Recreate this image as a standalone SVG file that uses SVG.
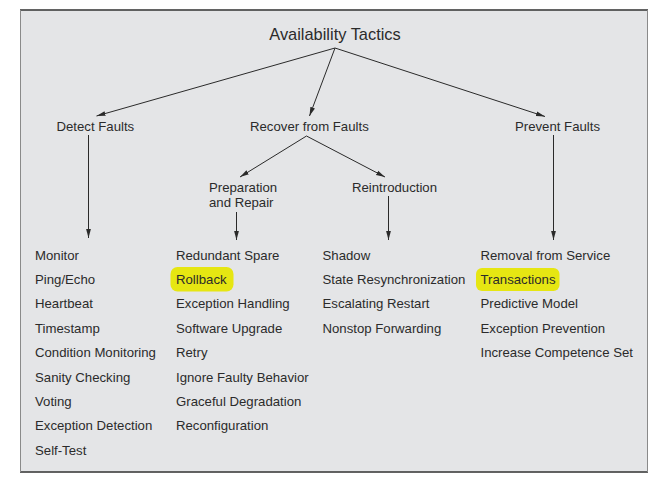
<svg xmlns="http://www.w3.org/2000/svg" width="663" height="484" viewBox="0 0 663 484">
  <style>
    text { font-family: "Liberation Sans", Arial, sans-serif; fill: #2b2b2b; }
    .title { font-size: 16.4px; text-anchor: middle; }
    .lbl { font-size: 13.2px; }
    .conn { stroke: #2a2a2a; stroke-width: 1; fill: none; marker-end: url(#arrow); }
    .hl { fill: #e6e612; }
  </style>
  <defs>
    <marker id="arrow" markerUnits="userSpaceOnUse" markerWidth="9" markerHeight="6" viewBox="0 0 9 6" refX="9" refY="3" orient="auto">
      <path d="M0,0.6 L9,3 L0,5.4 Z" fill="#2a2a2a"/>
    </marker>
  </defs>

  <rect x="0" y="0" width="663" height="484" fill="#ffffff"/>
  <g id="frame">
    <rect x="20" y="9.5" width="628" height="463" fill="#e4e5e7"/>
    <line x1="20" y1="10" x2="648" y2="10" stroke="#333" stroke-width="1.5"/>
    <line x1="20" y1="472" x2="648" y2="472" stroke="#333" stroke-width="1.5"/>
    <line x1="20.5" y1="10" x2="20.5" y2="472" stroke="#8a8a8a" stroke-width="1"/>
    <line x1="647.5" y1="10" x2="647.5" y2="472" stroke="#8a8a8a" stroke-width="1"/>
  </g>

  <g id="connectors">
    <line class="conn" x1="335" y1="48" x2="96.5" y2="116"/>
    <line class="conn" x1="335" y1="48" x2="309.5" y2="116"/>
    <line class="conn" x1="335" y1="48" x2="545" y2="116.5"/>
    <line class="conn" x1="306.5" y1="136" x2="240" y2="177"/>
    <line class="conn" x1="306.5" y1="136" x2="385" y2="177"/>
    <line class="conn" x1="88.5" y1="135" x2="88.5" y2="238"/>
    <line class="conn" x1="236.5" y1="212" x2="236.5" y2="240"/>
    <line class="conn" x1="388.5" y1="196" x2="388.5" y2="240"/>
    <line class="conn" x1="553.5" y1="135" x2="553.5" y2="240"/>
  </g>

  <g id="availability-tactics">
    <text class="title" x="335" y="40">Availability Tactics</text>
  </g>

  <g id="detect-faults">
    <text class="lbl" x="56.5" y="131">Detect Faults</text>
  </g>
  <g id="recover-from-faults">
    <text class="lbl" x="250" y="131">Recover from Faults</text>
  </g>
  <g id="prevent-faults">
    <text class="lbl" x="515" y="131">Prevent Faults</text>
  </g>
  <g id="preparation-and-repair">
    <text class="lbl" x="209" y="191.5">Preparation</text>
    <text class="lbl" x="209" y="206.5">and Repair</text>
  </g>
  <g id="reintroduction">
    <text class="lbl" x="352" y="191.5">Reintroduction</text>
  </g>

  <g id="detect-list">
    <text class="lbl" x="35" y="259.5">Monitor</text>
    <text class="lbl" x="35" y="284">Ping/Echo</text>
    <text class="lbl" x="35" y="308.3">Heartbeat</text>
    <text class="lbl" x="35" y="332.7">Timestamp</text>
    <text class="lbl" x="35" y="357">Condition Monitoring</text>
    <text class="lbl" x="35" y="381.5">Sanity Checking</text>
    <text class="lbl" x="35" y="406">Voting</text>
    <text class="lbl" x="35" y="430.3">Exception Detection</text>
    <text class="lbl" x="35" y="454.7">Self-Test</text>
  </g>

  <g id="preparation-list">
    <rect class="hl" x="170.5" y="267" width="63" height="24.5" rx="7"/>
    <text class="lbl" x="176" y="259.5">Redundant Spare</text>
    <text class="lbl" x="176" y="284">Rollback</text>
    <text class="lbl" x="176" y="308.3">Exception Handling</text>
    <text class="lbl" x="176" y="332.7">Software Upgrade</text>
    <text class="lbl" x="176" y="357">Retry</text>
    <text class="lbl" x="176" y="381.5">Ignore Faulty Behavior</text>
    <text class="lbl" x="176" y="406">Graceful Degradation</text>
    <text class="lbl" x="176" y="430.3">Reconfiguration</text>
  </g>

  <g id="reintroduction-list">
    <text class="lbl" x="322.5" y="259.5">Shadow</text>
    <text class="lbl" x="322.5" y="284">State Resynchronization</text>
    <text class="lbl" x="322.5" y="308.3">Escalating Restart</text>
    <text class="lbl" x="322.5" y="332.7">Nonstop Forwarding</text>
  </g>

  <g id="prevent-list">
    <rect class="hl" x="476" y="268" width="83.5" height="23" rx="6"/>
    <text class="lbl" x="480.5" y="259.5">Removal from Service</text>
    <text class="lbl" x="480.5" y="284">Transactions</text>
    <text class="lbl" x="480.5" y="308.3">Predictive Model</text>
    <text class="lbl" x="480.5" y="332.7">Exception Prevention</text>
    <text class="lbl" x="480.5" y="357">Increase Competence Set</text>
  </g>
</svg>
